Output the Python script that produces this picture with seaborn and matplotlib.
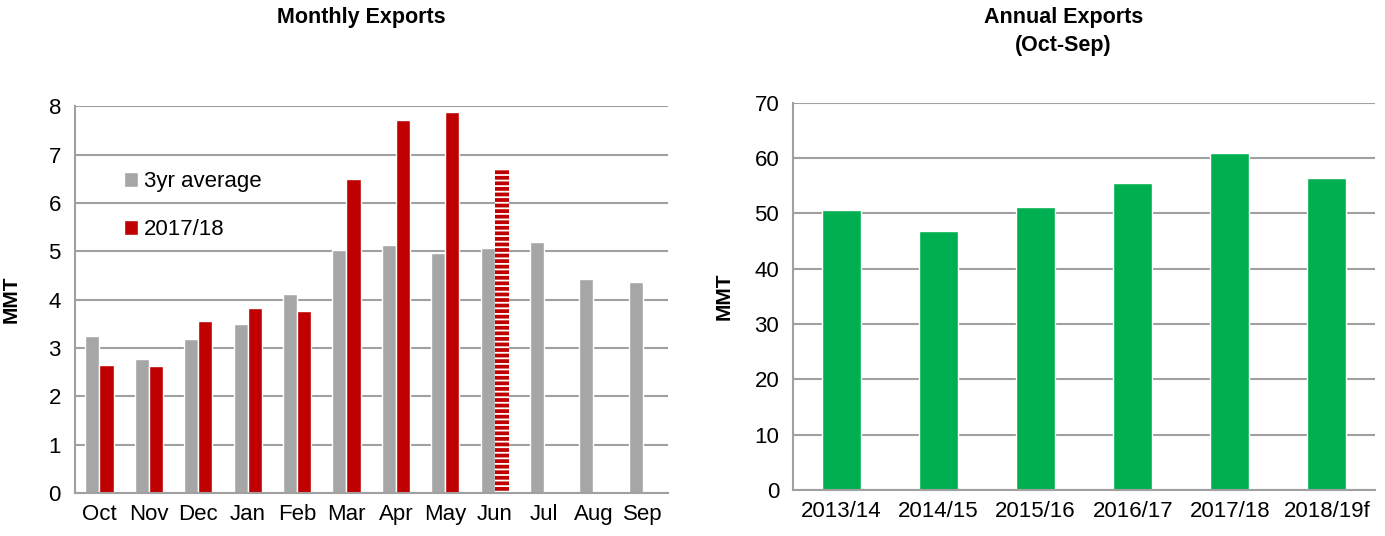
import numpy as np
import pandas as pd
import matplotlib
matplotlib.use('Agg')
import matplotlib.pyplot as plt
import seaborn as sns
from matplotlib.patches import Patch

# data
months = ['Oct', 'Nov', 'Dec', 'Jan', 'Feb', 'Mar', 'Apr', 'May', 'Jun', 'Jul', 'Aug', 'Sep']
avg_3yr = [3.25, 2.78, 3.18, 3.50, 4.11, 5.03, 5.12, 4.97, 5.07, 5.19, 4.42, 4.36]
exports_1718 = [2.65, 2.63, 3.56, 3.83, 3.77, 6.50, 7.71, 7.87, 6.67]
series_names = ['3yr average', '2017/18']

seasons = ['2013/14', '2014/15', '2015/16', '2016/17', '2017/18', '2018/19f']
annual = [50.7, 46.8, 51.1, 55.6, 61.0, 56.5]

GRAY = '#A6A6A6'
RED = '#C00000'
GREEN = '#00B050'
GRID = '#A0A0A0'

sns.set_style('white')
plt.rcParams['font.family'] = ['Liberation Sans', 'DejaVu Sans']
plt.rcParams['text.color'] = 'black'
plt.rcParams['axes.labelcolor'] = 'black'
plt.rcParams['xtick.labelcolor'] = 'black'
plt.rcParams['ytick.labelcolor'] = 'black'
plt.rcParams['hatch.linewidth'] = 1.3

monthly = pd.concat([
    pd.DataFrame({'Month': months, 'MMT': avg_3yr, 'Series': series_names[0]}),
    pd.DataFrame({'Month': months[:len(exports_1718)], 'MMT': exports_1718, 'Series': series_names[1]}),
])
annual_df = pd.DataFrame({'Season': seasons, 'MMT': annual})

fig = plt.figure(figsize=(13.85, 5.36), dpi=100)
ax1 = fig.add_axes([0.054, 0.080, 0.428, 0.722])
ax2 = fig.add_axes([0.5726, 0.086, 0.4204, 0.722])

# Monthly chart
sns.barplot(data=monthly, x='Month', y='MMT', hue='Series', order=months,
            hue_order=series_names, palette=[GRAY, RED], width=0.57,
            errorbar=None, saturation=1, legend=False, ax=ax1)

# June is a partial month -> striped bar
jun_bar = ax1.containers[1].patches[8]
jun_bar.set_hatch('---')
jun_bar.set_edgecolor('white')
jun_bar.set_linewidth(0)

# Annual chart
sns.barplot(data=annual_df, x='Season', y='MMT', color=GREEN, width=0.4,
            saturation=1, errorbar=None, ax=ax2)

def style_axis(ax, ymax, step, n):
    ax.set_xlim(-0.5, n - 0.5)
    ax.set_ylim(0, ymax)
    ax.set_yticks(np.arange(0, ymax + step, step))
    ax.yaxis.grid(True, color=GRID, lw=1.5)
    ax.set_axisbelow(True)
    for s in ['top', 'right']:
        ax.spines[s].set_visible(False)
    for s in ['left', 'bottom']:
        ax.spines[s].set_color(GRID)
        ax.spines[s].set_linewidth(1.5)
    ax.set_xticks(np.arange(-0.5, n, 1), minor=True)
    ax.tick_params(axis='x', which='major', length=0, pad=8, labelsize=16)
    ax.tick_params(axis='x', which='minor', length=7, width=1.5, color=GRID, direction='out')
    ax.tick_params(axis='y', length=6, width=1.5, color=GRID, direction='out', labelsize=16, pad=4)
    ax.set_xlabel('')
    ax.set_ylabel('MMT', weight='bold', fontsize=15)

style_axis(ax1, 8, 1, len(months))
style_axis(ax2, 70, 10, len(seasons))
ax1.yaxis.set_label_coords(-0.092, 0.5)
ax2.yaxis.set_label_coords(-0.102, 0.5)

# legend
handles = [Patch(facecolor=GRAY), Patch(facecolor=RED)]
ax1.legend(handles, series_names, loc='upper left', bbox_to_anchor=(0.064, 0.86),
           frameon=False, fontsize=16, handlelength=0.65, handleheight=0.65,
           handletextpad=0.25, labelspacing=1.2, borderpad=0)

# titles
fig.text(0.261, 1 - 18 / 536, 'Monthly Exports', ha='center', va='center', weight='bold', fontsize=15.5)
fig.text(0.768, 1 - 18 / 536, 'Annual Exports', ha='center', va='center', weight='bold', fontsize=15.5)
fig.text(0.768, 1 - 45 / 536, '(Oct-Sep)', ha='center', va='center', weight='bold', fontsize=15.5)

fig.savefig('out.png', dpi=100)
